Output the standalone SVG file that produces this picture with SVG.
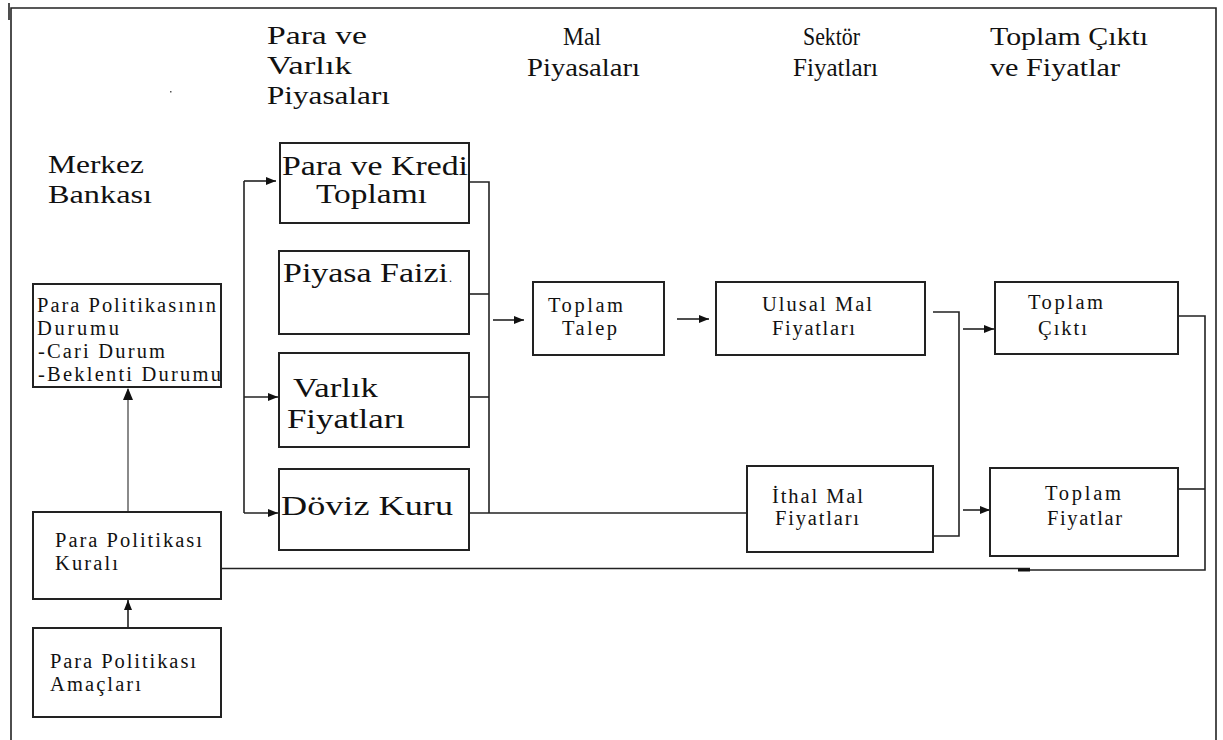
<svg xmlns="http://www.w3.org/2000/svg" width="1223" height="740" viewBox="0 0 1223 740">
<style>
  text { font-family: "Liberation Serif", "DejaVu Serif", serif; fill: #111; }
  .hd { font-size: 26px; }
  .big { font-size: 28px; }
  .sm { font-size: 20.5px; }
  .box { fill: #fff; stroke: #222; stroke-width: 2; }
  .ln { fill: none; stroke: #222; stroke-width: 1.6; }
  .gr { fill: none; stroke: #8a8a8a; stroke-width: 2; }
</style>
<defs>
  <marker id="ah" markerUnits="userSpaceOnUse" markerWidth="11" markerHeight="8" refX="10" refY="4" orient="auto">
    <path d="M0,0 L10,4 L0,8 Z" fill="#111"/>
  </marker>
</defs>
<rect x="0" y="0" width="1223" height="740" fill="#fff"/>

<g id="frame">
  <path class="ln" d="M11,740 V8 H1216 V740" stroke-width="2"/>
  <path class="ln" d="M9,3 V20"/>
  <rect x="170" y="91" width="1.5" height="1.5" fill="#555"/>
</g>

<g id="headings">
  <text class="hd" x="267" y="44" textLength="100" lengthAdjust="spacingAndGlyphs">Para ve</text>
  <text class="hd" x="267" y="74" textLength="85" lengthAdjust="spacingAndGlyphs">Varlık</text>
  <text class="hd" x="267" y="104" textLength="123" lengthAdjust="spacingAndGlyphs">Piyasaları</text>
  <text class="hd" x="563" y="45" textLength="38" lengthAdjust="spacingAndGlyphs">Mal</text>
  <text class="hd" x="527" y="76" textLength="113" lengthAdjust="spacingAndGlyphs">Piyasaları</text>
  <text class="hd" x="803" y="45" textLength="57" lengthAdjust="spacingAndGlyphs">Sektör</text>
  <text class="hd" x="793" y="76" textLength="85" lengthAdjust="spacingAndGlyphs">Fiyatları</text>
  <text class="hd" x="990" y="45" textLength="158" lengthAdjust="spacingAndGlyphs">Toplam Çıktı</text>
  <text class="hd" x="990" y="76" textLength="130" lengthAdjust="spacingAndGlyphs">ve Fiyatlar</text>
  <text class="hd" x="48" y="173" textLength="96" lengthAdjust="spacingAndGlyphs">Merkez</text>
  <text class="hd" x="48" y="203" textLength="104" lengthAdjust="spacingAndGlyphs">Bankası</text>
</g>

<g id="connectors">
  <path class="ln" d="M244,181 V513"/>
  <path class="ln" d="M244,181 H276" marker-end="url(#ah)"/>
  <path class="ln" d="M244,397 H278" marker-end="url(#ah)"/>
  <path class="ln" d="M244,513 H278" marker-end="url(#ah)"/>
  <path class="ln" d="M469,182 H489 V513"/>
  <path class="ln" d="M469,294 H489"/>
  <path class="ln" d="M469,397 H489"/>
  <path class="ln" d="M469,513 H746"/>
  <path class="ln" d="M493,320 H524" marker-end="url(#ah)"/>
  <path class="ln" d="M677,319 H709" marker-end="url(#ah)"/>
  <path class="ln" d="M933,312 H959 V536 H933"/>
  <path class="ln" d="M963,329 H994" marker-end="url(#ah)"/>
  <path class="ln" d="M963,510 H990" marker-end="url(#ah)"/>
  <path class="ln" d="M1178,316 H1205 V570 H1030"/>
  <path class="ln" d="M1178,489 H1205"/>
  <path class="ln" d="M220,568.5 H1030" stroke="#444"/>
  <path d="M1018,570 H1030" stroke="#111" stroke-width="3"/>
  <path class="gr" d="M128,512 V389"/>
  <path d="M123,400 L128,388 L133,400 Z" fill="#111"/>
  <path class="ln" d="M128,628 V600" marker-end="url(#ah)"/>
</g>

<g id="n-durum">
  <rect class="box" x="33" y="284" width="188" height="103"/>
  <text class="sm" x="37" y="312" textLength="179" lengthAdjust="spacing">Para Politikasının</text>
  <text class="sm" x="37" y="335" textLength="82" lengthAdjust="spacing">Durumu</text>
  <text class="sm" x="38" y="358" textLength="127" lengthAdjust="spacing">-Cari Durum</text>
  <text class="sm" x="38" y="381" textLength="183" lengthAdjust="spacing">-Beklenti Durumu</text>
</g>

<g id="n-kural">
  <rect class="box" x="33" y="512" width="188" height="87"/>
  <text class="sm" x="55" y="547" textLength="147" lengthAdjust="spacing">Para Politikası</text>
  <text class="sm" x="55" y="570" textLength="63" lengthAdjust="spacing">Kuralı</text>
</g>

<g id="n-amac">
  <rect class="box" x="33" y="628" width="188" height="89"/>
  <text class="sm" x="50" y="668" textLength="146" lengthAdjust="spacing">Para Politikası</text>
  <text class="sm" x="50" y="691" textLength="91" lengthAdjust="spacing">Amaçları</text>
</g>

<g id="n-kredi">
  <rect class="box" x="280" y="143" width="189" height="80"/>
  <text class="big" x="282" y="175" textLength="186" lengthAdjust="spacingAndGlyphs">Para ve Kredi</text>
  <text class="big" x="316" y="203" textLength="111" lengthAdjust="spacingAndGlyphs">Toplamı</text>
</g>

<g id="n-faiz">
  <rect class="box" x="279" y="251" width="190" height="83"/>
  <text class="big" x="283" y="282" textLength="165" lengthAdjust="spacingAndGlyphs">Piyasa Faizi</text>
  <text x="449" y="282" font-size="12">.</text>
</g>

<g id="n-varlik">
  <rect class="box" x="279" y="353" width="190" height="94"/>
  <text class="big" x="293" y="397" textLength="85" lengthAdjust="spacingAndGlyphs">Varlık</text>
  <text class="big" x="287" y="428" textLength="118" lengthAdjust="spacingAndGlyphs">Fiyatları</text>
</g>

<g id="n-doviz">
  <rect class="box" x="279" y="469" width="190" height="81"/>
  <text class="big" x="281" y="515" textLength="172" lengthAdjust="spacingAndGlyphs">Döviz Kuru</text>
</g>

<g id="n-talep">
  <rect class="box" x="533" y="282" width="131" height="73"/>
  <text class="sm" x="548" y="312" textLength="75" lengthAdjust="spacing">Toplam</text>
  <text class="sm" x="562" y="335" textLength="55" lengthAdjust="spacing">Talep</text>
</g>

<g id="n-ulusal">
  <rect class="box" x="716" y="282" width="209" height="73"/>
  <text class="sm" x="762" y="311" textLength="110" lengthAdjust="spacing">Ulusal Mal</text>
  <text class="sm" x="772" y="335" textLength="83" lengthAdjust="spacing">Fiyatları</text>
</g>

<g id="n-ithal">
  <rect class="box" x="747" y="466" width="186" height="86"/>
  <text class="sm" x="772" y="503" textLength="91" lengthAdjust="spacing">İthal Mal</text>
  <text class="sm" x="775" y="525" textLength="84" lengthAdjust="spacing">Fiyatları</text>
</g>

<g id="n-cikti">
  <rect class="box" x="995" y="282" width="183" height="72"/>
  <text class="sm" x="1028" y="309" textLength="75" lengthAdjust="spacing">Toplam</text>
  <text class="sm" x="1038" y="335" textLength="49" lengthAdjust="spacing">Çıktı</text>
</g>

<g id="n-fiyatlar">
  <rect class="box" x="990" y="468" width="188" height="88"/>
  <text class="sm" x="1045" y="500" textLength="76" lengthAdjust="spacing">Toplam</text>
  <text class="sm" x="1047" y="525" textLength="75" lengthAdjust="spacing">Fiyatlar</text>
</g>
</svg>
